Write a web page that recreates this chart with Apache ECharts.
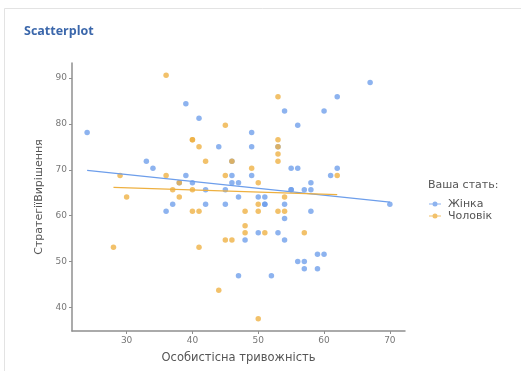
<!DOCTYPE html>
<html>
<head>
<meta charset="utf-8">
<script src="https://cdn.jsdelivr.net/npm/echarts@6/dist/echarts.min.js"></script>
<style>html,body{margin:0;padding:0;background:#fff}#c{width:521px;height:371px}</style>
</head>
<body>
<div id="c"></div>
<script>
// Data
const seriesNames = ['Жінка', 'Чоловік'];
const womenX = [24,33,34,39,41,44,39,38,40,42,45,37,42,45,36,46,46,46,47,49,49,49,53,54,55,56,56,60,62,62,61,67,58,55,55,57,58,47,50,51,51,51,54,70,58,54,50,53,48,54,59,60,56,57,57,59,47,52];
const womenY = [78.13,71.88,70.31,84.38,81.25,75.0,68.75,67.19,67.19,65.63,65.63,62.5,62.5,62.5,60.94,71.88,68.75,67.19,67.19,78.13,75.0,68.75,75.0,82.81,70.31,70.31,79.69,82.81,85.94,70.31,68.75,89.06,67.19,65.63,65.63,65.63,65.63,64.06,64.06,64.06,62.5,62.5,62.5,62.5,60.94,59.38,56.25,56.25,54.69,54.69,51.56,51.56,50.0,50.0,48.44,48.44,46.88,46.88];
const menX = [36,45,40,40,41,42,53,53,53,53,46,53,49,29,36,45,62,38,50,37,40,30,38,54,50,40,41,48,50,53,54,48,48,51,57,28,41,45,46,44,50];
const menY = [90.63,79.69,76.56,76.56,75.0,71.88,85.94,76.56,75.0,73.44,71.88,71.88,70.31,68.75,68.75,68.75,68.75,67.19,67.19,65.63,65.63,64.06,64.06,64.06,62.5,60.94,60.94,60.94,60.94,60.94,60.94,57.81,56.25,56.25,56.25,53.13,53.13,54.69,54.69,43.75,37.5];
const xTicks = [30,40,50,60,70];
const yTicks = [40,50,60,70,80,90];
const titleText = 'Scatterplot';
const xName = 'Особистісна тривожність';
const yName = 'СтратегіїВирішення';
const legendTitle = 'Ваша стать:';

function zip(xs, ys){ return xs.map((x,i)=>[x, ys[i]]); }
function fit(xs, ys){
  const n = xs.length;
  const mx = xs.reduce((a,b)=>a+b,0)/n, my = ys.reduce((a,b)=>a+b,0)/n;
  let sxy=0, sxx=0;
  for(let i=0;i<n;i++){ sxy+=(xs[i]-mx)*(ys[i]-my); sxx+=(xs[i]-mx)*(xs[i]-mx); }
  const b = sxy/sxx, a = my - b*mx;
  const x0 = Math.min(...xs), x1 = Math.max(...xs);
  return [[x0, a+b*x0],[x1, a+b*x1]];
}
function padRange(arr){ const lo=Math.min(...arr), hi=Math.max(...arr), p=(hi-lo)*0.05; return [lo-p, hi+p]; }
const xr = padRange(womenX.concat(menX));
const yr = padRange(womenY.concat(menY));

const BLUE = '#6d9eeb', ORANGE = '#eeb040';
const FONT = 'DejaVu Sans';
const icon = 'path://M0,2.4H12V3.6H0Z M3.5,3A2.5,2.5 0 1,1 8.5,3A2.5,2.5 0 1,1 3.5,3Z';

const chart = echarts.init(document.getElementById('c'), null, {renderer:'canvas'});
chart.setOption({
  animation: false,
  backgroundColor: '#fff',
  title: [
    {text: titleText, left: 19, top: 20, textStyle:{fontFamily:'Open Sans', fontWeight:'bold', fontSize:12.5, color:'#3b67ab'}},
    {text: legendTitle, left: 423, top: 175, textStyle:{fontFamily:FONT, fontWeight:'normal', fontSize:11, color:'#555'}}
  ],
  graphic: [
    {type:'polyline', shape:{points:[[4.5,371],[4.5,8.5],[521,8.5]]}, style:{stroke:'#e3e3e3', lineWidth:1, fill:null}, silent:true}
  ],
  legend: {
    orient:'vertical', left: 424, top: 193, itemGap: 0, itemWidth: 12, itemHeight: 6,
    data: seriesNames.map(n=>({name:n, icon: icon})),
    textStyle:{fontFamily:FONT, fontSize:11, color:'#555', lineHeight:12, padding:[0,0,0,2]}
  },
  grid: {left:72, right:116, top:63, bottom:40, containLabel:false},
  xAxis: {
    type:'value', min: xr[0], max: xr[1],
    name: xName, nameLocation:'middle', nameGap: 21,
    nameTextStyle:{fontFamily:FONT, fontSize:11.5, color:'#555'},
    axisLine:{show:true, lineStyle:{color:'#8f8f8f', width:1.5}},
    axisTick:{show:true, customValues: xTicks, length:3, lineStyle:{color:'#8f8f8f'}},
    axisLabel:{customValues: xTicks, margin:5, fontFamily:FONT, fontSize:9, color:'#777'},
    splitLine:{show:false}
  },
  yAxis: {
    type:'value', min: yr[0], max: yr[1],
    name: yName, nameLocation:'middle', nameGap: 26,
    nameTextStyle:{fontFamily:FONT, fontSize:11, color:'#555'},
    axisLine:{show:true, lineStyle:{color:'#8f8f8f', width:1.5}},
    axisTick:{show:true, customValues: yTicks, length:3, lineStyle:{color:'#8f8f8f'}},
    axisLabel:{customValues: yTicks, margin:5, fontFamily:FONT, fontSize:9, color:'#777'},
    splitLine:{show:false}
  },
  series: [
    {name: seriesNames[0], type:'scatter', symbolSize:5.5, data: zip(womenX, womenY), itemStyle:{color:BLUE, opacity:0.78}, z:2},
    {name: seriesNames[1], type:'scatter', symbolSize:5.5, data: zip(menX, menY), itemStyle:{color:ORANGE, opacity:0.78}, z:3},
    {name: seriesNames[0]+' fit', type:'line', data: fit(womenX, womenY), symbol:'none', lineStyle:{color:BLUE, width:1.3}, z:4, silent:true},
    {name: seriesNames[1]+' fit', type:'line', data: fit(menX, menY), symbol:'none', lineStyle:{color:ORANGE, width:1.3}, z:4, silent:true}
  ]
});
</script>
</body>
</html>
